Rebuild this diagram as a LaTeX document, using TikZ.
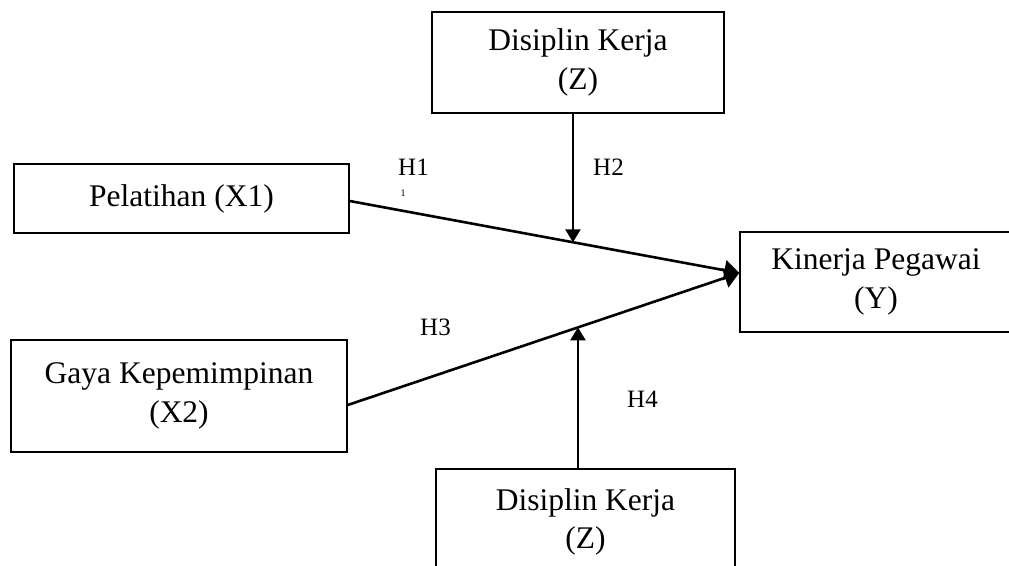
\documentclass[tikz,border=0pt]{standalone}
\usepackage{fontspec}
\setmainfont{Liberation Serif}
\usetikzlibrary{arrows.meta,calc}

\begin{document}
\begin{tikzpicture}[x=1pt,y=-1pt,
 kotak/.style={draw,line width=1.4pt,align=center,inner sep=0pt,font=\fontsize{31.5}{38.5}\selectfont},
 panah/.style={line width=2.6pt,-{Triangle[length=15pt,width=20pt]}},
 panahz/.style={line width=2.6pt,-{Triangle[length=13pt,width=15pt]}},
 hipo/.style={anchor=base west,inner sep=0pt,font=\fontsize{25}{30}\selectfont}]
\useasboundingbox (0,0) rectangle (1009,565);
\node[kotak,minimum width=292pt,minimum height=101pt] (disiplinatas) at (578,62.5) {Disiplin Kerja\\(Z)};
\node[kotak,minimum width=335pt,minimum height=69pt] (pelatihan) at (181.5,198.5) {Pelatihan (X1)};
\node[kotak,minimum width=336pt,minimum height=112pt] (gaya) at (179,396) {Gaya Kepemimpinan\\(X2)};
\node[kotak,minimum width=272pt,minimum height=100pt] (kinerja) at (876,282) {Kinerja Pegawai\\(Y)};
\node[kotak,minimum width=299pt,minimum height=106pt] (disiplinbawah) at (585.5,522) {Disiplin Kerja\\(Z)};

\draw[panah] ([yshift=-2.5pt]pelatihan.east) -- coordinate[pos=0.573] (titikA) ([yshift=9pt]kinerja.west);
\draw[panah] ([yshift=-9pt]gaya.east) -- coordinate[pos=0.588] (titikB) ([yshift=9pt]kinerja.west);
\draw[panahz] (disiplinatas.south -| titikA) -- (titikA);
\draw[panahz] (disiplinbawah.north -| titikB) -- (titikB);

\node[hipo] (h1) at (398,175) {H1};
\node[inner sep=0pt,font=\fontsize{10}{10}\selectfont] (tanda) at (403,193) {1};
\node[hipo] (h2) at (593,175) {H2};
\node[hipo] (h3) at (420,335) {H3};
\node[hipo] (h4) at (627,407) {H4};
\end{tikzpicture}
\end{document}
